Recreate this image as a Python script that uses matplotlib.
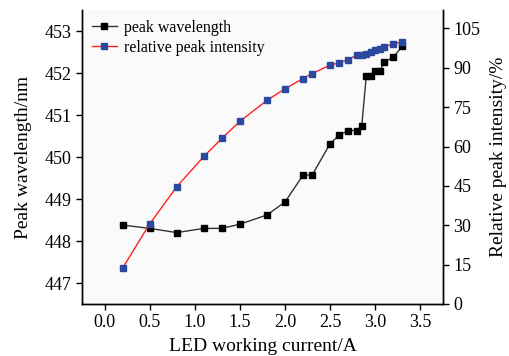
import matplotlib
matplotlib.use("Agg")
import matplotlib.pyplot as plt

current = [0.2, 0.5, 0.8, 1.1, 1.3, 1.5, 1.8, 2.0, 2.2, 2.3, 2.5, 2.6, 2.7, 2.8,
           2.85, 2.9, 2.95, 3.0, 3.05, 3.1, 3.2, 3.3]
peak_wavelength = [448.38, 448.3, 448.2, 448.3, 448.3, 448.4, 448.62, 448.93,
                   449.57, 449.57, 450.32, 450.52, 450.63, 450.63, 450.75,
                   451.93, 451.93, 452.05, 452.05, 452.26, 452.38, 452.64]
rel_intensity = [13.7, 30.5, 44.7, 56.2, 63.1, 69.6, 77.6, 82.0, 85.9, 87.8,
                 91.0, 91.9, 93.1, 95.0, 94.8, 95.3, 96.0, 96.9, 97.3, 98.0,
                 99.1, 99.9]
x_ticks = [0.0, 0.5, 1.0, 1.5, 2.0, 2.5, 3.0, 3.5]
left_ticks = [447, 448, 449, 450, 451, 452, 453]
right_ticks = [0, 15, 30, 45, 60, 75, 90, 105]

plt.rcParams['font.family'] = ['Liberation Serif', 'DejaVu Serif']

fig = plt.figure(figsize=(5.09, 3.56), dpi=100)
ax = fig.add_axes([82/509, 1 - 304/356, (443-82)/509, (304-10)/356])
ax.set_facecolor('#fafafa')
ax2 = ax.twinx()

l1, = ax.plot(current, peak_wavelength, color='#333333', lw=1, marker='s',
              ms=5, mfc='black', mec='black', label='peak wavelength', zorder=3)
l2, = ax2.plot(current, rel_intensity, color='#ff2020', lw=1, marker='s',
               ms=5, mfc='#2a48a0', mec='#2a48a0', label='relative peak intensity')

ax.set_xlim(-0.25, 3.75)
ax.set_ylim(446.5, 453.5)
ax2.set_ylim(0, 112)
ax.set_xticks(x_ticks)
ax.set_xticklabels([f"{v:.1f}" for v in x_ticks])
ax.set_yticks(left_ticks)
ax2.set_yticks(right_ticks)

for a in (ax, ax2):
    a.spines['top'].set_visible(False)
    a.tick_params(direction='out', length=4, width=1, labelsize=13)
    for s in a.spines.values():
        s.set_linewidth(1)

ax.set_xlabel('LED working current/A', fontsize=14, labelpad=5)
ax.set_ylabel('Peak wavelength/nm', fontsize=14, labelpad=9)
ax2.set_ylabel('Relative peak intensity/%', fontsize=14, labelpad=7)

ax.legend(handles=[l1, l2], loc='upper left', frameon=False, fontsize=11.5,
          handlelength=1.6, handletextpad=0.4, borderaxespad=0.2,
          labelspacing=0.25, bbox_to_anchor=(0.0, 1.0))

fig.savefig('out.png', dpi=100)
